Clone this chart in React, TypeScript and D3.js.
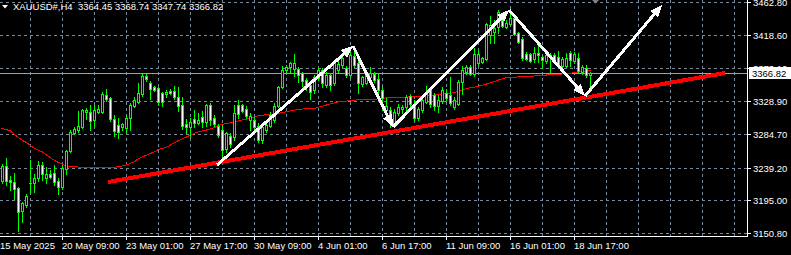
import React from 'react';
import * as d3 from 'd3';

const W = 791;
const H = 255;

const symbolTitle = 'XAUUSD#,H4  3364.45 3368.74 3347.74 3366.82';
const lastPrice = 3366.82;

const open = [
  3221.0, 3241.3, 3222.4, 3219.7, 3211.6, 3180.5, 3188.6, 3218.3, 3218.3, 3225.1,
  3242.7, 3225.1, 3230.5, 3231.8, 3221.0, 3213.0, 3237.3, 3261.6, 3285.9, 3289.9,
  3294.0, 3314.2, 3314.2, 3303.4, 3314.2, 3314.2, 3337.2, 3333.1, 3304.8, 3296.7,
  3294.0, 3292.6, 3306.1, 3322.3, 3327.7, 3338.5, 3362.9, 3353.4, 3348.0, 3346.6,
  3339.9, 3338.5, 3342.6, 3342.6, 3334.5, 3323.7, 3298.0, 3294.0, 3304.8, 3299.4,
  3307.5, 3300.7, 3323.7, 3306.1, 3295.3, 3289.9, 3264.3, 3281.8, 3280.5, 3323.7,
  3323.7, 3318.3, 3303.4, 3303.4, 3295.3, 3276.4, 3289.9, 3295.3, 3303.4, 3322.3,
  3348.0, 3371.0, 3375.0, 3372.3, 3372.3, 3366.9, 3357.5, 3350.7, 3343.9, 3360.2,
  3371.0, 3350.7, 3364.2, 3353.4, 3371.0, 3377.7, 3373.7, 3364.2, 3389.9, 3380.4,
  3352.0, 3353.4, 3361.5, 3365.6, 3358.8, 3343.9, 3316.9, 3316.9, 3298.0, 3312.9,
  3318.3, 3321.0, 3335.8, 3322.3, 3306.1, 3316.9, 3327.7, 3343.9, 3337.2, 3322.3,
  3329.1, 3339.9, 3337.2, 3321.0, 3325.0, 3354.8, 3368.3, 3375.0, 3365.6, 3380.4,
  3381.8, 3385.8, 3418.2, 3422.3, 3429.0, 3438.5, 3429.0, 3433.1, 3441.2, 3420.9,
  3412.8, 3392.6, 3392.6, 3385.8, 3393.9, 3388.5, 3383.1, 3391.2, 3391.2, 3388.5,
  3376.4, 3376.4, 3393.9, 3383.1, 3387.2, 3368.3, 3373.7, 3364.45,
];

const high = [
  3244.0, 3252.1, 3227.8, 3231.8, 3213.0, 3192.7, 3203.5, 3249.4, 3230.5, 3248.1,
  3246.7, 3240.0, 3235.9, 3242.7, 3225.1, 3242.7, 3262.9, 3289.9, 3294.0, 3315.6,
  3318.3, 3319.6, 3323.7, 3323.7, 3323.7, 3341.2, 3345.3, 3334.5, 3310.2, 3306.1,
  3299.4, 3310.2, 3326.4, 3334.5, 3353.4, 3365.6, 3365.6, 3356.1, 3349.3, 3347.5,
  3341.2, 3343.9, 3345.3, 3349.3, 3348.0, 3334.5, 3304.8, 3306.1, 3316.9, 3312.9,
  3315.6, 3325.0, 3326.4, 3310.2, 3298.0, 3296.7, 3287.2, 3285.9, 3323.7, 3330.4,
  3325.0, 3322.3, 3312.9, 3307.5, 3299.4, 3296.7, 3303.4, 3314.2, 3326.4, 3349.3,
  3376.4, 3377.7, 3381.8, 3392.6, 3375.0, 3368.3, 3360.2, 3354.8, 3364.2, 3373.7,
  3373.7, 3368.3, 3366.9, 3384.5, 3384.5, 3388.5, 3376.4, 3400.7, 3402.0, 3387.2,
  3362.9, 3368.3, 3375.0, 3368.3, 3365.6, 3348.0, 3333.1, 3321.0, 3318.3, 3325.0,
  3323.7, 3337.2, 3338.5, 3330.4, 3321.0, 3334.5, 3349.3, 3348.0, 3339.9, 3337.2,
  3348.0, 3345.3, 3361.5, 3334.5, 3357.5, 3376.4, 3377.7, 3377.7, 3400.7, 3398.0,
  3388.5, 3434.4, 3443.9, 3438.5, 3452.0, 3442.5, 3438.5, 3452.0, 3442.5, 3422.3,
  3415.5, 3395.3, 3393.9, 3402.0, 3407.4, 3391.2, 3393.9, 3393.9, 3393.9, 3396.6,
  3388.5, 3393.9, 3396.6, 3395.3, 3393.9, 3377.7, 3377.7, 3368.74,
];

const low = [
  3218.3, 3215.6, 3208.9, 3196.7, 3153.5, 3165.7, 3185.9, 3204.8, 3206.2, 3221.0,
  3222.4, 3218.3, 3225.1, 3215.6, 3203.5, 3210.3, 3230.5, 3260.2, 3284.5, 3287.2,
  3292.6, 3304.8, 3289.9, 3295.3, 3312.9, 3312.9, 3329.1, 3302.1, 3281.8, 3279.1,
  3289.9, 3285.9, 3289.9, 3321.0, 3326.4, 3335.8, 3356.1, 3331.8, 3342.6, 3323.7,
  3322.3, 3334.5, 3338.5, 3331.8, 3315.6, 3291.3, 3285.9, 3280.5, 3294.0, 3298.0,
  3294.0, 3295.3, 3296.7, 3295.3, 3280.5, 3249.4, 3260.2, 3267.0, 3276.4, 3306.1,
  3314.2, 3306.1, 3289.9, 3288.6, 3273.7, 3272.4, 3287.2, 3294.0, 3300.7, 3321.0,
  3346.6, 3368.3, 3368.3, 3362.9, 3354.8, 3349.3, 3343.9, 3331.8, 3339.9, 3357.5,
  3348.0, 3348.0, 3343.9, 3350.7, 3368.3, 3375.0, 3361.5, 3361.5, 3375.0, 3339.9,
  3349.3, 3352.0, 3360.2, 3354.8, 3339.9, 3316.9, 3310.2, 3294.0, 3295.3, 3310.2,
  3312.9, 3312.9, 3321.0, 3303.4, 3303.4, 3314.2, 3326.4, 3321.0, 3316.9, 3314.2,
  3326.4, 3330.4, 3323.7, 3318.3, 3323.7, 3338.5, 3365.6, 3364.2, 3362.9, 3377.7,
  3380.4, 3384.5, 3407.4, 3407.4, 3420.9, 3429.0, 3427.7, 3431.7, 3418.2, 3407.4,
  3384.5, 3384.5, 3381.8, 3381.8, 3381.8, 3373.7, 3380.4, 3366.9, 3380.4, 3375.0,
  3375.0, 3375.0, 3376.4, 3380.4, 3368.3, 3365.6, 3361.5, 3347.74,
];

const close = [
  3241.3, 3221.0, 3219.7, 3210.3, 3179.2, 3191.3, 3200.8, 3219.0, 3225.1, 3242.7,
  3230.5, 3230.5, 3226.4, 3219.7, 3213.0, 3238.6, 3261.6, 3287.2, 3291.3, 3295.3,
  3316.9, 3316.9, 3302.1, 3316.9, 3318.3, 3338.5, 3331.8, 3304.8, 3288.6, 3287.2,
  3298.0, 3306.1, 3323.7, 3330.4, 3339.9, 3362.9, 3358.8, 3345.3, 3343.9, 3327.7,
  3327.7, 3341.2, 3339.9, 3334.5, 3322.3, 3295.3, 3294.0, 3300.7, 3299.4, 3303.4,
  3300.7, 3323.7, 3303.4, 3298.0, 3283.2, 3262.9, 3285.9, 3271.0, 3312.9, 3311.5,
  3315.6, 3308.8, 3308.8, 3294.0, 3276.4, 3294.0, 3296.7, 3310.2, 3322.3, 3348.0,
  3371.0, 3375.0, 3380.4, 3380.4, 3364.2, 3356.1, 3348.0, 3341.2, 3361.5, 3371.0,
  3353.4, 3364.2, 3350.7, 3381.8, 3379.1, 3387.2, 3364.2, 3391.2, 3377.7, 3353.4,
  3361.5, 3364.2, 3366.9, 3357.5, 3343.9, 3333.1, 3322.3, 3303.4, 3314.2, 3321.0,
  3321.0, 3334.5, 3325.0, 3306.1, 3318.3, 3330.4, 3341.2, 3325.0, 3322.3, 3330.4,
  3343.9, 3333.1, 3326.4, 3330.4, 3354.8, 3371.0, 3375.0, 3365.6, 3392.6, 3392.6,
  3387.2, 3433.1, 3431.7, 3427.7, 3449.3, 3430.4, 3434.4, 3441.2, 3419.6, 3408.8,
  3387.2, 3385.8, 3383.1, 3393.9, 3391.2, 3384.5, 3391.2, 3388.5, 3381.8, 3377.7,
  3385.8, 3387.2, 3384.5, 3392.6, 3369.6, 3375.0, 3364.45, 3366.82,
];

const maBars = [
  -0.5, 0, 2, 3, 5, 6, 8, 10, 11, 13, 14, 16, 18, 20, 23, 26, 28, 30, 31, 33,
  34, 36, 38, 39, 41, 43, 44, 46, 48, 49, 51, 53, 54, 56, 58, 59, 63, 64, 68, 71,
  74, 78, 81, 84, 87, 90, 93, 96, 100, 103, 106, 109, 113, 116, 118, 119, 120, 121, 123, 124,
  126, 128, 129, 133, 136, 140, 143, 146, 147,
];
const maValues = [
  3293.0, 3292.0, 3288.6, 3283.8, 3275.7, 3273.0, 3265.0, 3260.2, 3256.2, 3248.7,
  3246.0, 3241.3, 3240.2, 3239.5, 3238.6, 3238.6, 3239.5, 3241.3, 3242.7, 3247.1,
  3251.4, 3255.9, 3260.6, 3263.6, 3266.3, 3272.8, 3275.7, 3280.5, 3285.5, 3287.5,
  3289.9, 3293.3, 3296.0, 3298.7, 3301.1, 3302.3, 3307.2, 3309.5, 3311.5, 3314.6,
  3317.9, 3319.2, 3323.7, 3328.1, 3329.5, 3331.4, 3331.4, 3333.4, 3334.1, 3334.9,
  3335.8, 3337.9, 3340.3, 3346.2, 3347.6, 3349.3, 3350.3, 3352.0, 3355.2, 3357.5,
  3360.8, 3361.1, 3361.8, 3362.9, 3364.2, 3365.6, 3367.3, 3369.9, 3370.6,
];

const priceTicks = [3462.8, 3418.6, 3373.1, 3328.9, 3284.7, 3239.2, 3195.0, 3150.8];
const timeLabels = [
  '15 May 2025', '20 May 09:00', '23 May 01:00', '27 May 17:00', '30 May 09:00',
  '4 Jun 01:00', '6 Jun 17:00', '11 Jun 09:00', '16 Jun 01:00', '18 Jun 17:00',
];
const timeLabelBars = [-0.5, 15, 31, 47, 63, 79, 95, 111, 127, 143];

const trendBars = [26.5, 180.75];
const trendPrices = [3219.7, 3366.9];

const zigBars = [53.75, 87.75, 97.75, 126.75, 145.75, 165];
const zigPrices = [3242.7, 3403.4, 3294.0, 3452.0, 3335.8, 3458.7];

const FONT = '"Liberation Sans", Arial, sans-serif';
const LIME = '#00ff00';
const GRID = '#778899';

export default function App() {
  const plotRight = 747;
  const plotBottom = 236;
  const x = d3.scaleLinear().domain([0, 147]).range([2, 590]);
  const y = d3.scaleLinear().domain([3150.8, 3462.8]).range([233, 2]);

  const gridBars = d3.range(7, 190, 8);

  const maLine = d3
    .line<number>()
    .x((_, i) => x(maBars[i]) + 0.5)
    .y((v) => y(v))(maValues) as string;

  const n = Math.min(open.length, high.length, low.length, close.length);
  const candles = d3.range(n).map((i) => {
    const cx = Math.round(x(i));
    const yo = Math.round(y(open[i]));
    const yc = Math.round(y(close[i]));
    const yh = Math.round(y(high[i]));
    const yl = Math.round(y(low[i]));
    const top = Math.min(yo, yc);
    const bot = Math.max(yo, yc);
    const bull = close[i] >= open[i];
    return (
      <g key={i}>
        <rect x={cx} y={yh} width={1} height={yl - yh + 1} fill={LIME} />
        <rect x={cx - 1} y={top} width={3} height={bot - top + 1} fill={LIME} />
        {bot - top >= 2 && (
          <rect x={cx} y={top + 1} width={1} height={bot - top - 1} fill={bull ? '#000' : '#fff'} />
        )}
      </g>
    );
  });

  const zigPts = zigBars.map((b, i) => [x(b), y(zigPrices[i])] as [number, number]);
  const arrows = zigPts.slice(1).map((p, i) => {
    const s = zigPts[i];
    const dx = p[0] - s[0];
    const dy = p[1] - s[1];
    const len = Math.hypot(dx, dy);
    const ux = dx / len;
    const uy = dy / len;
    const hl = 12;
    const hw = 5;
    const bx = p[0] - ux * hl;
    const by = p[1] - uy * hl;
    const poly = [
      [p[0], p[1]],
      [bx - uy * hw, by + ux * hw],
      [bx + uy * hw, by - ux * hw],
    ]
      .map((q) => q.join(','))
      .join(' ');
    return (
      <g key={i}>
        <line x1={s[0]} y1={s[1]} x2={bx + ux * 2} y2={by + uy * 2} stroke="#fff" strokeWidth={3} shapeRendering="crispEdges" />
        <polygon points={poly} fill="#fff" shapeRendering="crispEdges" />
      </g>
    );
  });

  const lastY = Math.round(y(lastPrice));

  return (
    <div style={{ position: 'absolute', left: 0, top: 0, width: W, height: H }}>
      <svg width={W} height={H} style={{ display: 'block', background: '#000' }}>
        <defs>
          <clipPath id="plot">
            <rect x={0} y={0} width={plotRight} height={plotBottom} />
          </clipPath>
        </defs>
        <rect x={0} y={0} width={W} height={H} fill="#000" />
        <g clipPath="url(#plot)">
          {priceTicks.map((t) => (
            <line key={t} x1={0} x2={plotRight} y1={Math.round(y(t)) + 0.5} y2={Math.round(y(t)) + 0.5} stroke={GRID} strokeDasharray="3,3" shapeRendering="crispEdges" />
          ))}
          {gridBars.map((b) => (
            <line key={b} x1={Math.round(x(b)) + 0.5} x2={Math.round(x(b)) + 0.5} y1={0} y2={plotBottom} stroke={GRID} strokeDasharray="3,3" shapeRendering="crispEdges" />
          ))}
          <line x1={0} x2={plotRight} y1={lastY + 0.5} y2={lastY + 0.5} stroke="#a0a0a0" shapeRendering="crispEdges" />
          <path d={maLine} fill="none" stroke="#ff0000" strokeWidth={1} shapeRendering="crispEdges" />
          {candles}
          <line x1={x(trendBars[0])} y1={y(trendPrices[0])} x2={x(trendBars[1])} y2={y(trendPrices[1])} stroke="#ff0000" strokeWidth={4} shapeRendering="crispEdges" />
          {arrows}
        </g>
        {/* axes */}
        <line x1={plotRight + 0.5} x2={plotRight + 0.5} y1={0} y2={plotBottom + 1} stroke="#fff" shapeRendering="crispEdges" />
        <line x1={0} x2={plotRight + 1} y1={plotBottom + 0.5} y2={plotBottom + 0.5} stroke="#fff" shapeRendering="crispEdges" />
        {priceTicks.map((t) => {
          const ty = Math.round(y(t));
          return (
            <g key={t}>
              <line x1={plotRight} x2={plotRight + 4} y1={ty + 0.5} y2={ty + 0.5} stroke="#fff" shapeRendering="crispEdges" />
              <text x={753} y={ty + 3.5} fill="#fff" fontFamily={FONT} fontSize={9.5}>
                {t.toFixed(2)}
              </text>
            </g>
          );
        })}
        {timeLabels.map((lab, i) => {
          const tx = Math.round(x(timeLabelBars[i]));
          return (
            <g key={lab}>
              {i > 0 && (
                <line x1={tx + 0.5} x2={tx + 0.5} y1={plotBottom} y2={plotBottom + 4} stroke="#fff" shapeRendering="crispEdges" />
              )}
              <text x={tx} y={249} fill="#fff" fontFamily={FONT} fontSize={9.5}>
                {lab}
              </text>
            </g>
          );
        })}
        {/* current price label */}
        <rect x={749} y={lastY - 6} width={42} height={12} fill="#fff" />
        <text x={752} y={lastY + 3.5} fill="#000" fontFamily={FONT} fontSize={9.5}>
          {lastPrice.toFixed(2)}
        </text>
        {/* title */}
        <polygon points="2,5 8,5 5,8.5" fill="#fff" />
        <text x={13} y={10} fill="#fff" fontFamily={FONT} fontSize={9.5} style={{ whiteSpace: 'pre' }}>
          {symbolTitle}
        </text>
        {/* shift marker */}
        <polygon points="592,0 599,0 595.5,3.5" fill="#808080" />
      </svg>
    </div>
  );
}
